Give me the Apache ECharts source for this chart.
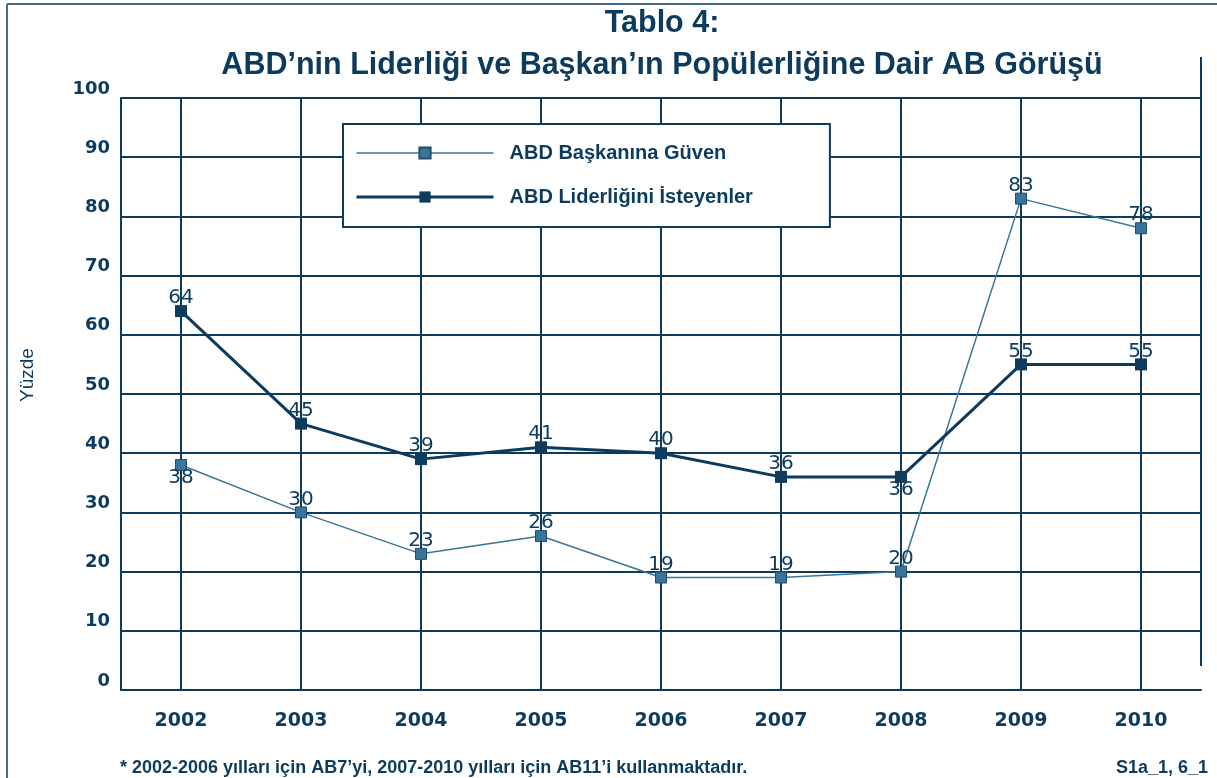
<!DOCTYPE html>
<html>
<head>
<meta charset="utf-8">
<script src="https://cdn.jsdelivr.net/npm/echarts@6/dist/echarts.min.js"></script>
<style>
html,body{margin:0;padding:0;background:#fff;}
#chart{width:1217px;height:778px;}
</style>
</head>
<body>
<div id="chart"></div>
<script>
const categories = ['2002','2003','2004','2005','2006','2007','2008','2009','2010'];
const seriesNames = ['ABD Başkanına Güven', 'ABD Liderliğini İsteyenler'];
const guvenValues = [38, 30, 23, 26, 19, 19, 20, 83, 78];
const liderlikValues = [64, 45, 39, 41, 40, 36, 36, 55, 55];
const yTicks = [0, 10, 20, 30, 40, 50, 60, 70, 80, 90, 100];
const titleLines = ['Tablo 4:', 'ABD’nin Liderliği ve Başkan’ın Popülerliğine Dair AB Görüşü'];
const footnote = '* 2002-2006 yılları için AB7’yi, 2007-2010 yılları için AB11’i kullanmaktadır.';
const sourceNote = 'S1a_1, 6_1';

const NAVY = '#0c3b5d';
const STEEL = '#3a7599';
const FONT = '"Liberation Sans", Arial, sans-serif';
const NUMFONT = '"DejaVu Sans", sans-serif';

const belowGuven = [0];
const belowLiderlik = [6];

function makeData(vals, below) {
  return vals.map((v, i) => below.includes(i)
    ? { value: v, label: { position: 'bottom' } }
    : v);
}

const labelStyle = { show: true, position: 'top', distance: -3, fontFamily: NUMFONT, fontSize: 20, color: NAVY };

const chart = echarts.init(document.getElementById('chart'));
chart.setOption({
  animation: false,
  backgroundColor: '#fff',
  textStyle: { fontFamily: FONT },
  title: {
    text: titleLines.join('\n'),
    left: 662, top: 3, padding: 0, textAlign: 'center',
    textStyle: { fontFamily: FONT, fontSize: 30.5, fontWeight: 'bold', color: NAVY, lineHeight: 42 }
  },
  grid: { left: 121, right: 16, top: 98, bottom: 88 },
  legend: {
    left: 343, top: 124,
    orient: 'vertical',
    itemWidth: 137, itemHeight: 14, itemGap: 24,
    padding: [19, 77, 20, 12],
    backgroundColor: '#fff',
    borderColor: NAVY, borderWidth: 2,
    lineStyle: { width: 'inherit' },
    textStyle: { fontFamily: FONT, fontSize: 20, fontWeight: 'bold', color: NAVY, padding: [0, 0, 0, 11] },
    data: seriesNames
  },
  xAxis: {
    type: 'category',
    data: categories,
    boundaryGap: true,
    axisLine: { show: true, lineStyle: { color: NAVY, width: 2 } },
    axisTick: { show: false },
    axisLabel: { fontFamily: NUMFONT, fontSize: 19, fontWeight: 'bold', color: NAVY, margin: 22 },
    splitLine: { show: true, alignWithLabel: true, lineStyle: { color: NAVY, width: 2 } }
  },
  yAxis: {
    type: 'value',
    min: yTicks[0], max: yTicks[yTicks.length - 1], interval: 10,
    name: 'Yüzde',
    nameLocation: 'middle',
    nameGap: 84,
    nameRotate: 90,
    nameTextStyle: { fontFamily: FONT, fontSize: 19, color: NAVY, padding: [0, 0, 0, 38] },
    axisLine: { show: true, lineStyle: { color: NAVY, width: 2 } },
    axisTick: { show: false },
    axisLabel: { fontFamily: NUMFONT, fontSize: 18, fontWeight: 'bold', color: NAVY, margin: 11, verticalAlign: 'bottom' },
    splitLine: { show: true, lineStyle: { color: NAVY, width: 2 } }
  },
  series: [
    {
      name: seriesNames[0],
      type: 'line',
      data: makeData(guvenValues, belowGuven),
      symbol: 'rect', symbolSize: 11,
      lineStyle: { color: STEEL, width: 1.5 },
      itemStyle: { color: STEEL, borderColor: '#1d4e6e', borderWidth: 1 },
      label: labelStyle,
      z: 3
    },
    {
      name: seriesNames[1],
      type: 'line',
      data: makeData(liderlikValues, belowLiderlik),
      symbol: 'rect', symbolSize: 12,
      lineStyle: { color: NAVY, width: 3 },
      itemStyle: { color: NAVY },
      label: labelStyle,
      z: 4
    }
  ],
  graphic: [
    { type: 'line', shape: { x1: 7, y1: 4, x2: 1217, y2: 4 }, style: { stroke: '#4a6e88', lineWidth: 2 } },
    { type: 'line', shape: { x1: 7, y1: 4, x2: 7, y2: 778 }, style: { stroke: '#4a6e88', lineWidth: 2 } },
    { type: 'line', shape: { x1: 1201, y1: 57, x2: 1201, y2: 666 }, style: { stroke: NAVY, lineWidth: 2 } },
    { type: 'text', left: 120, top: 759, style: { text: footnote, font: 'bold 18px ' + FONT, fill: NAVY } },
    { type: 'text', right: 9, top: 759, style: { text: sourceNote, font: 'bold 18px ' + FONT, fill: NAVY } }
  ]
});
</script>
</body>
</html>
